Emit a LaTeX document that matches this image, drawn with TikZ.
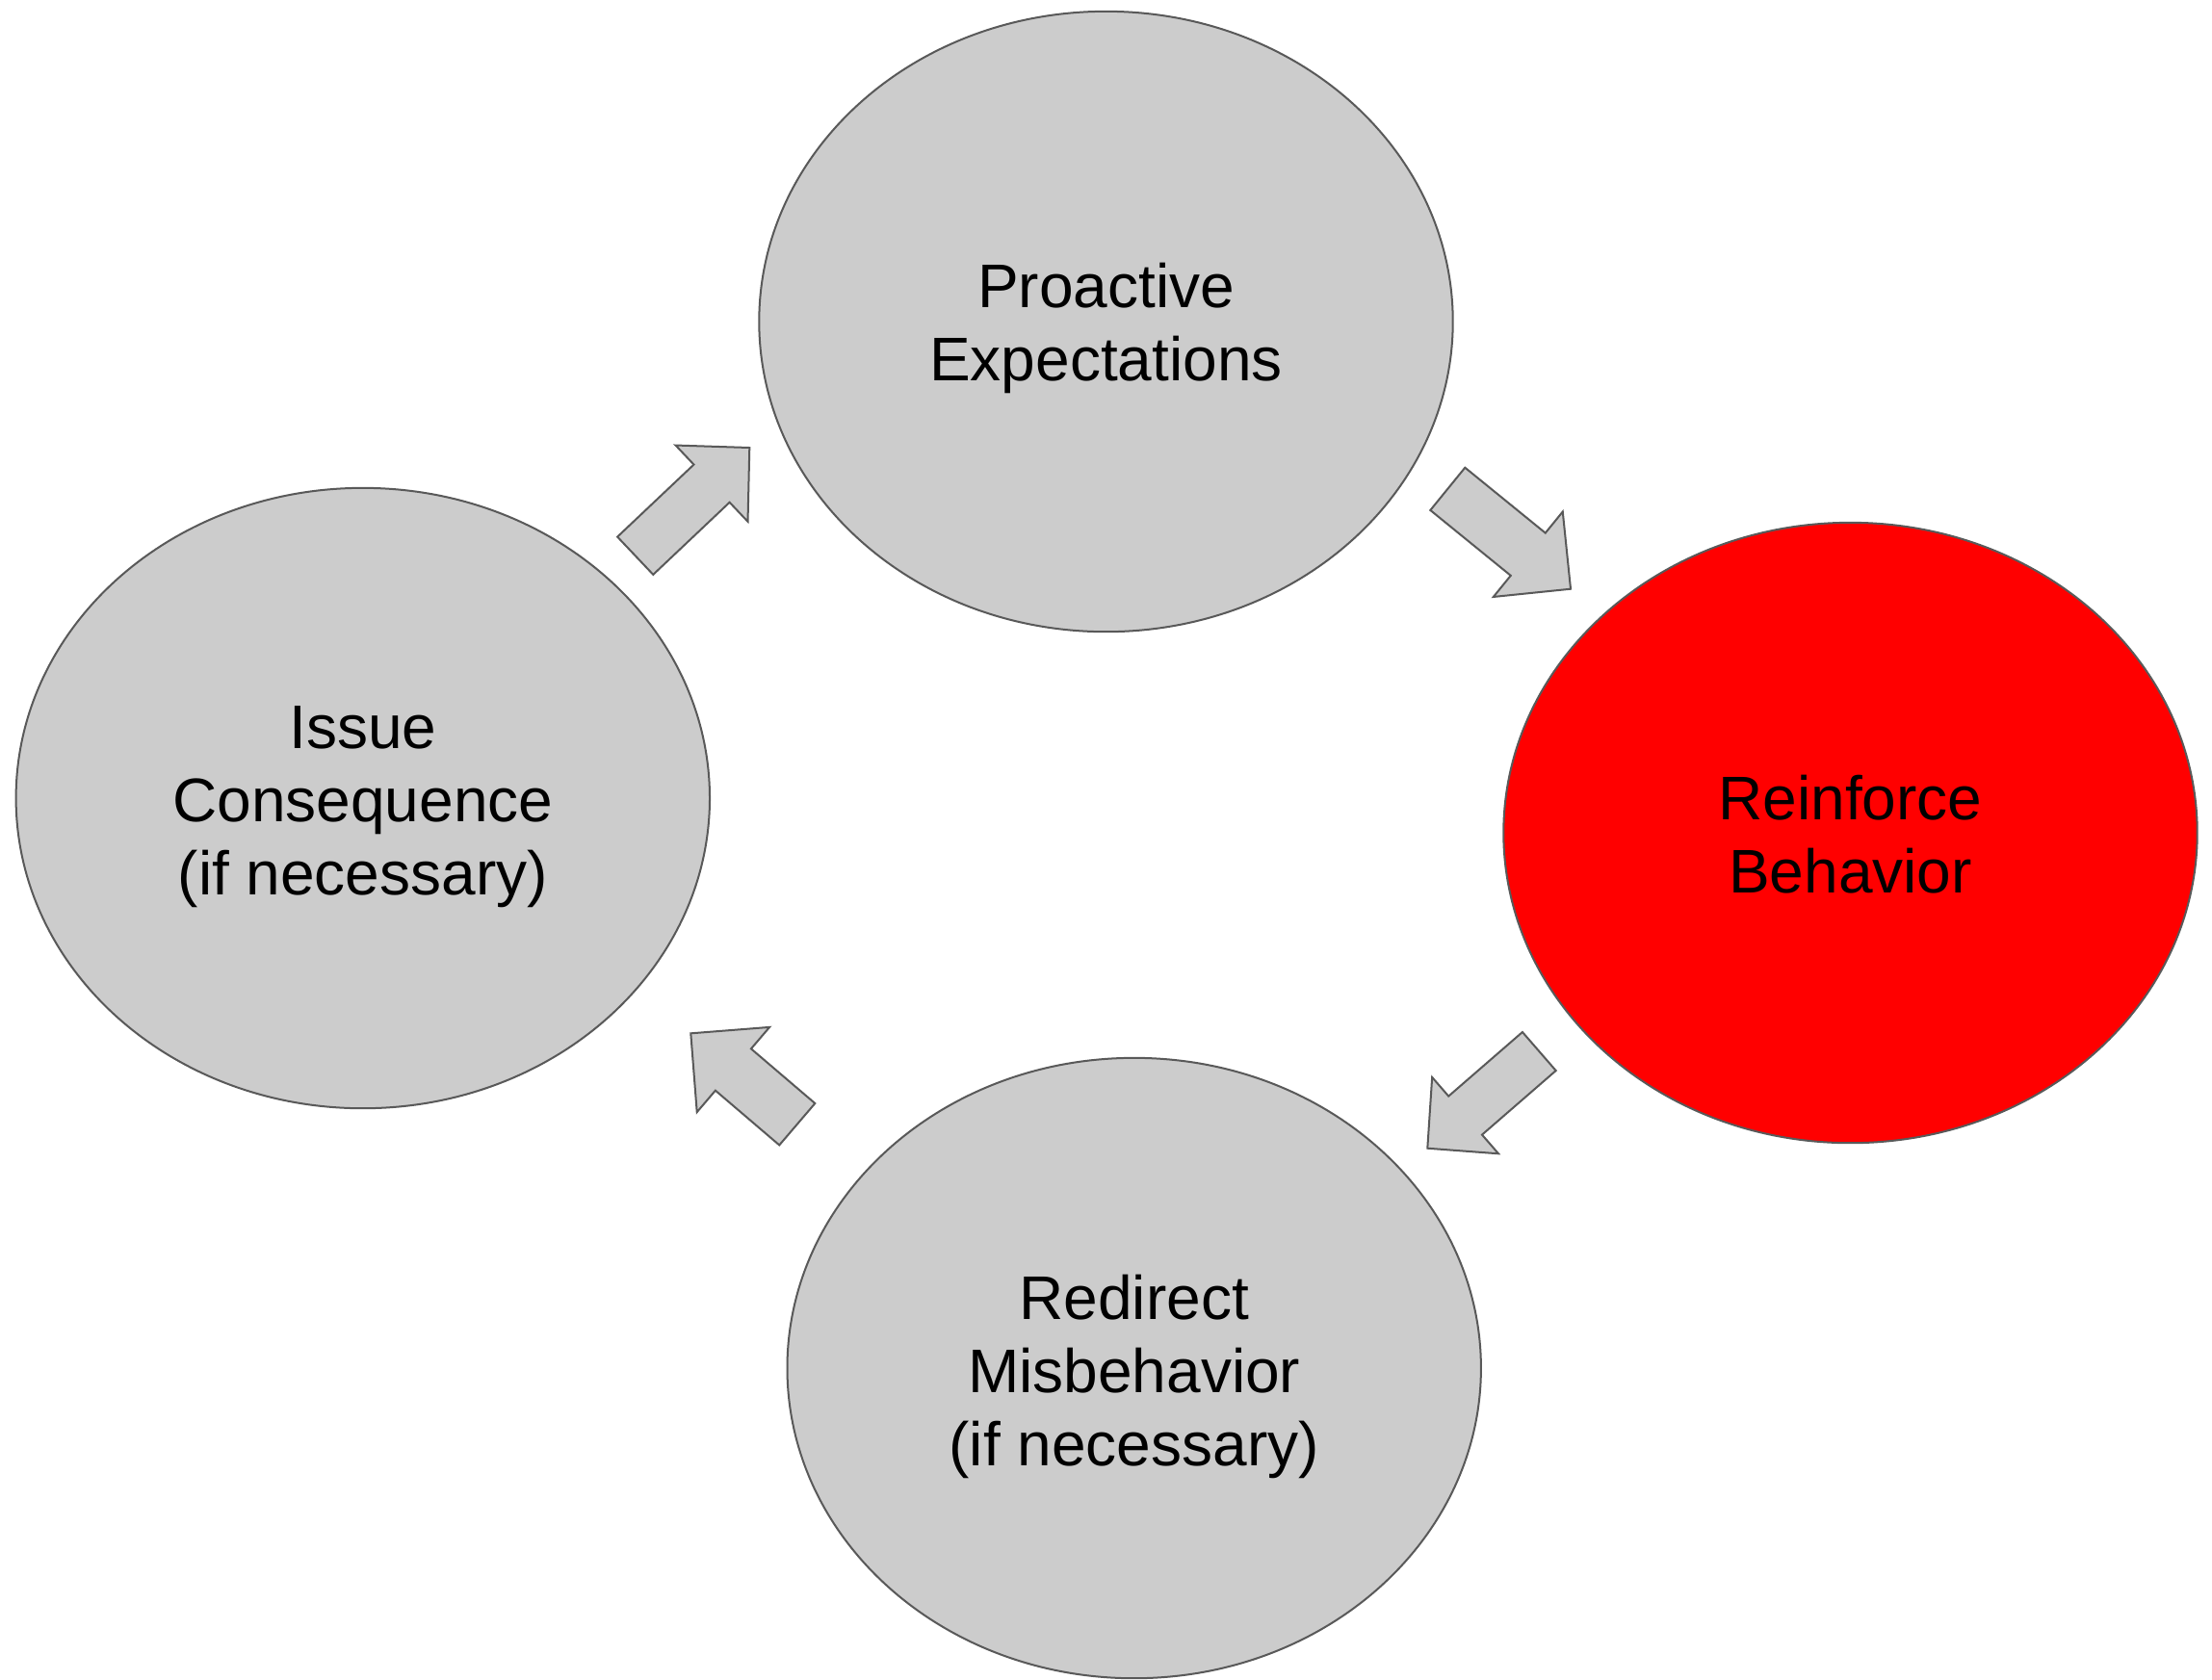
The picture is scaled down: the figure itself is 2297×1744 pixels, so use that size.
\documentclass[tikz,border=0pt]{standalone}
\usepackage{fontspec}
\setmainfont{Liberation Sans}
\usetikzlibrary{shapes.geometric,calc}

\definecolor{stepgray}{HTML}{CCCCCC}
\definecolor{edgegray}{HTML}{595959}
\definecolor{hotred}{HTML}{FF0000}

% block arrow from tail point #1 to tip #2:
% #3 half shaft width, #4 half head width, #5 head length
\newcommand{\blockarrow}[5]{%
  \coordinate (ba-base) at ($(#2)!#5!(#1)$);
  \draw[arrowbody]
    ($(#1)!#3!90:(#2)$) -- ($(ba-base)!#3!90:(#2)$) -- ($(ba-base)!#4!90:(#2)$)
    -- (#2)
    -- ($(ba-base)!#4!-90:(#2)$) -- ($(ba-base)!#3!-90:(#2)$) -- ($(#1)!#3!-90:(#2)$)
    -- cycle;}

\begin{document}
\begin{tikzpicture}[x=0.01cm, y=-0.01cm,
  stage/.style={ellipse, draw=edgegray, line width=0.57pt, fill=stepgray,
    minimum width=7.2cm, minimum height=6.44cm, inner sep=0pt},
  stagetext/.style={align=center, inner sep=0pt,
    font=\fontsize{18.2pt}{21.6pt}\selectfont},
  arrowbody/.style={draw=edgegray, line width=0.57pt, fill=stepgray, line join=miter}]

\useasboundingbox (0,0) rectangle (2297,1744);

\node[stage] (pe) at (1148.5,334) {};
\node[stage, fill=hotred] (rb) at (1921.5,865) {};
\node[stage] (rm) at (1177.7,1421) {};
\node[stage] (ic) at (376.8,829) {};

\node[stagetext] (pe-t) at ([yshift=-0.07cm]pe.center) {Proactive\\Expectations};
\node[stagetext] (rb-t) at ([yshift=-0.02cm]rb.center) {Reinforce\\Behavior};
\node[stagetext] (rm-t) at ([yshift=-0.09cm]rm.center) {Redirect\\Misbehavior\\(if necessary)};
\node[stagetext] (ic-t) at ([yshift=-0.09cm]ic.center) {Issue\\Consequence\\(if necessary)};

% arrow ends between the stages
\coordinate (ic-out) at (659.7,577.2);
\coordinate (pe-in)  at (778.3,465);
\coordinate (pe-out) at (1503.3,507.8);
\coordinate (rb-in)  at (1631,611.7);
\coordinate (rb-out) at (1598.3,1092);
\coordinate (rm-in)  at (1482.3,1192.7);
\coordinate (rm-out) at (827.8,1167.7);
\coordinate (ic-in)  at (717.3,1073.3);

\blockarrow{ic-out}{pe-in}{0.27cm}{0.545cm}{0.54cm}
\blockarrow{pe-out}{rb-in}{0.285cm}{0.57cm}{0.57cm}
\blockarrow{rb-out}{rm-in}{0.265cm}{0.525cm}{0.52cm}
\blockarrow{rm-out}{ic-in}{0.285cm}{0.58cm}{0.58cm}

\end{tikzpicture}
\end{document}
